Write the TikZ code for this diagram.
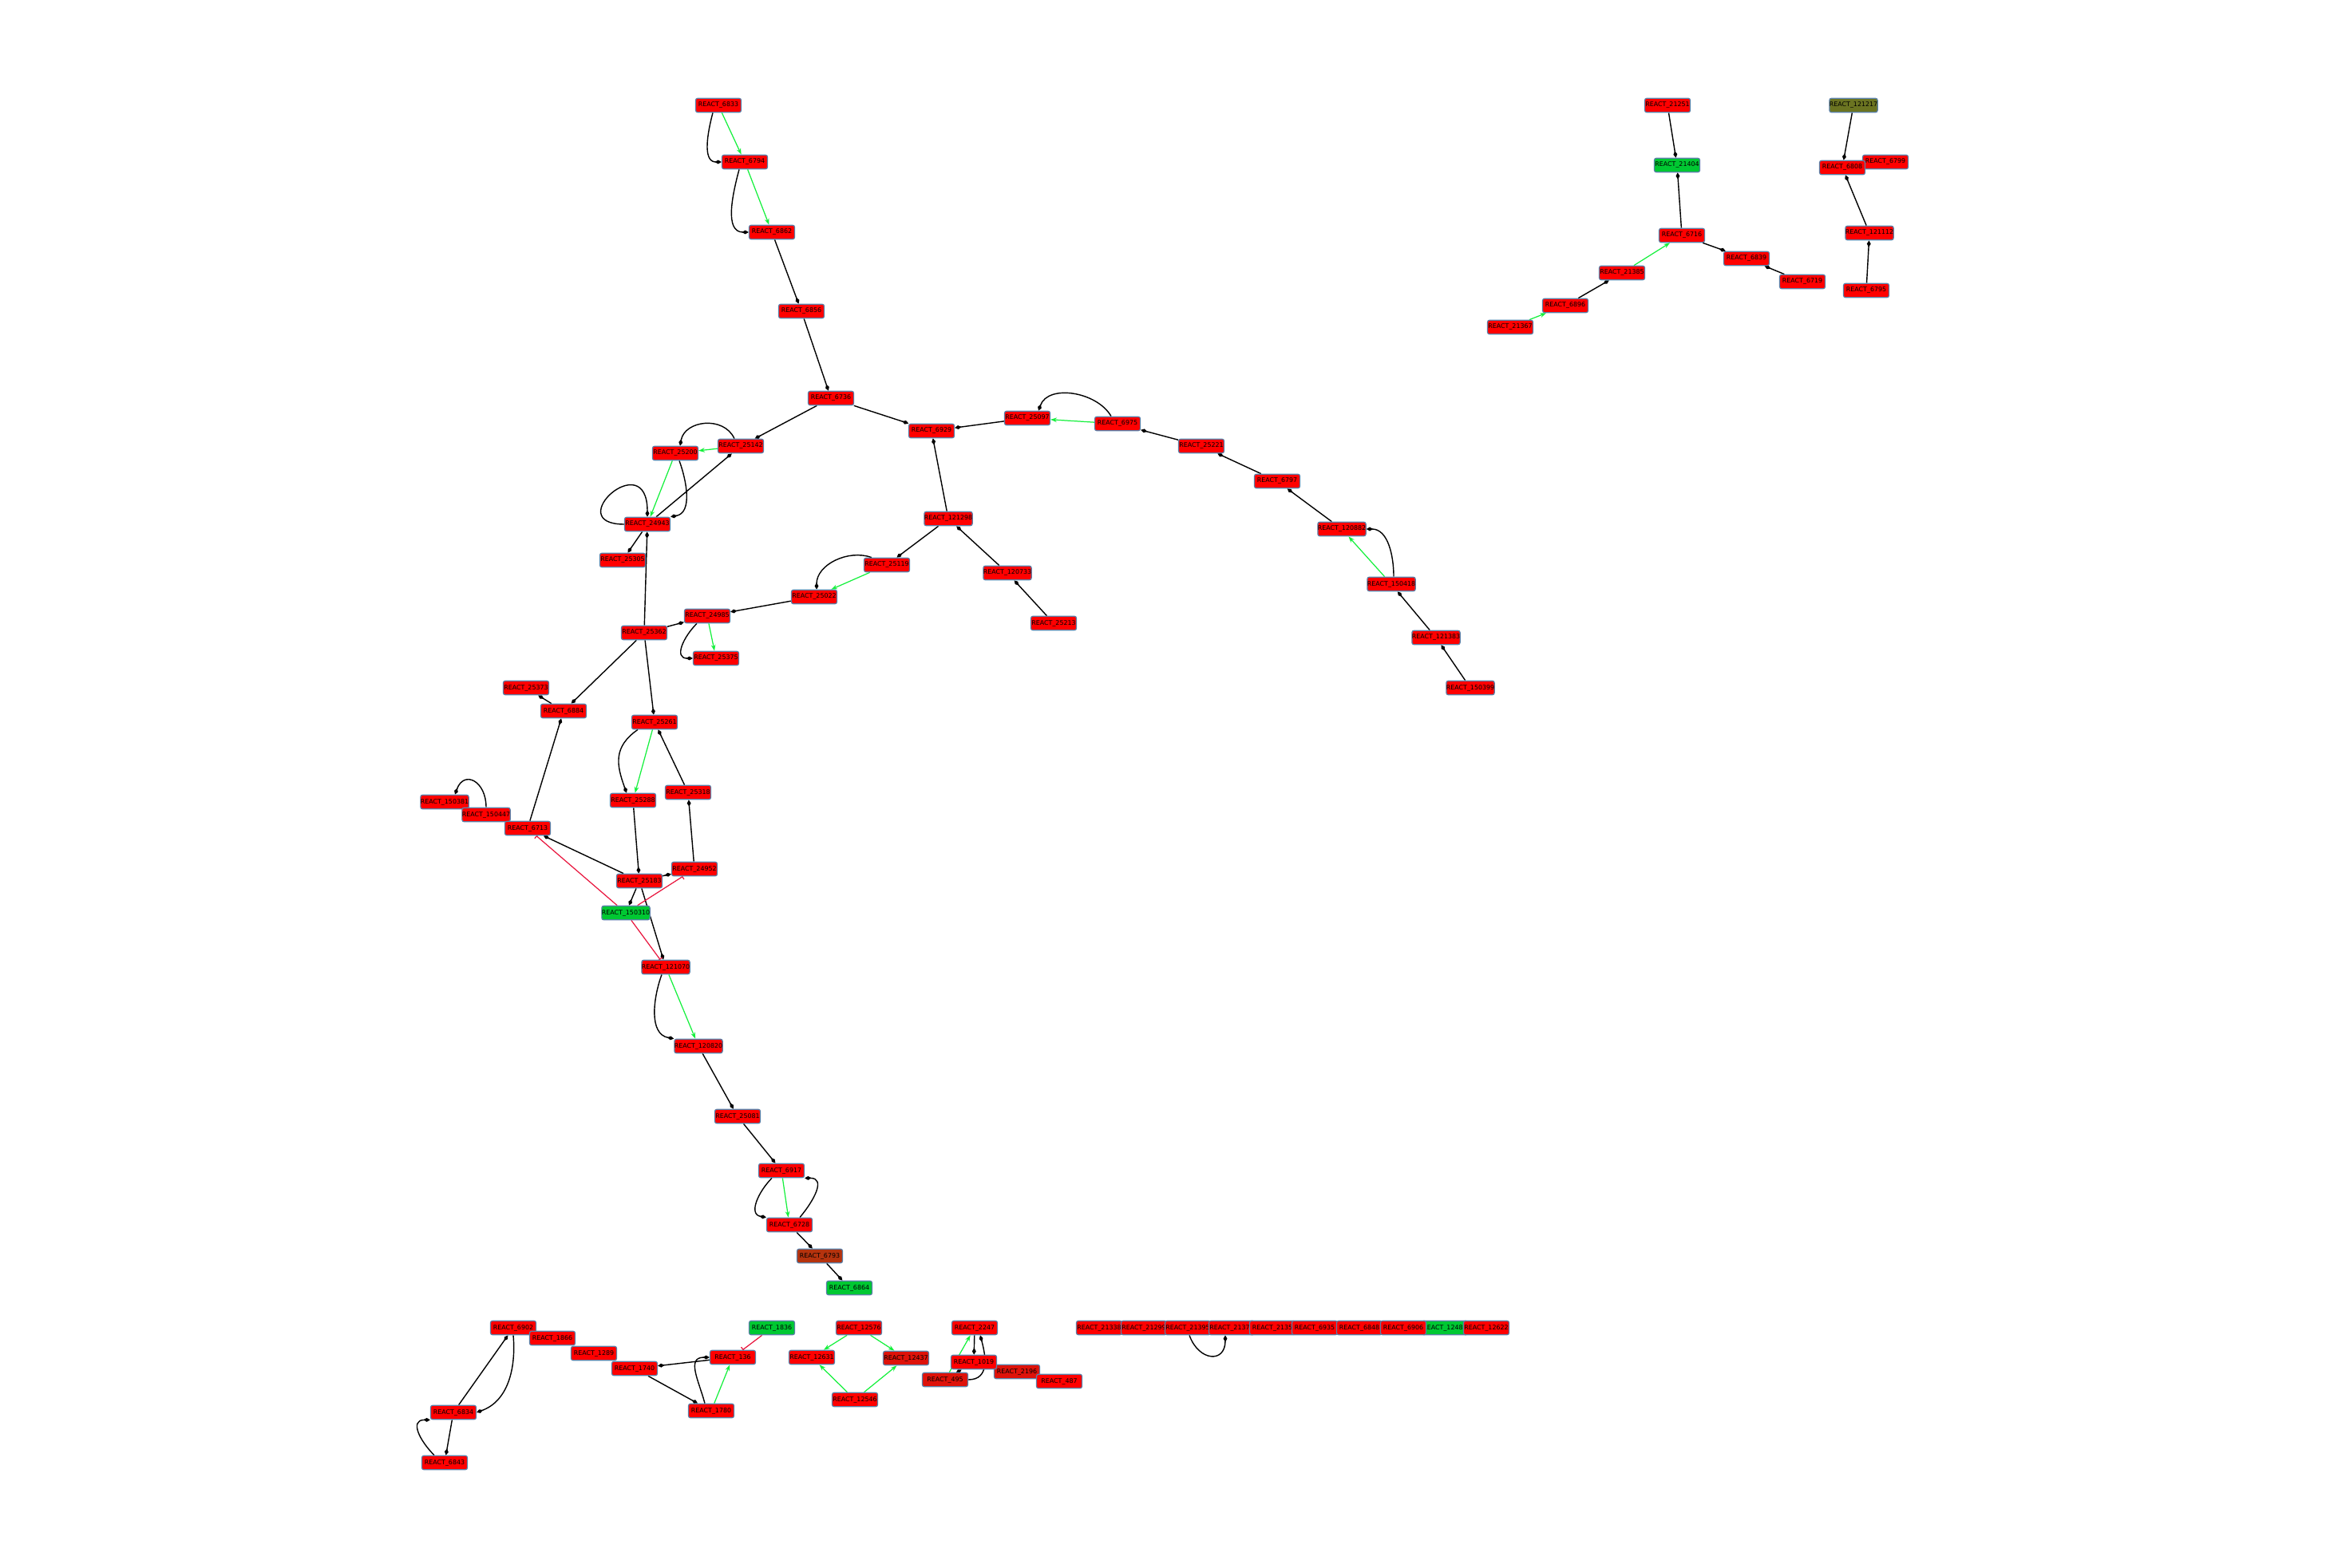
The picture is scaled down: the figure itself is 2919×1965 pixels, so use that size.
\documentclass[tikz,border=0pt]{standalone}
\usepackage{fontspec}
\setmainfont{DejaVu Sans}
\usetikzlibrary{arrows.meta,backgrounds}
\definecolor{reactred}{HTML}{FF0000}
\definecolor{reactdark}{HTML}{DE120A}
\definecolor{reactgreen}{HTML}{00C832}
\definecolor{reactbrown}{HTML}{B5330E}
\definecolor{reactolive}{HTML}{6B7421}
\definecolor{rimblue}{HTML}{5A80A8}
\definecolor{actgreen}{HTML}{14F03C}
\definecolor{inhred}{HTML}{E8163E}
\tikzset{
  react/.style={draw=rimblue,line width=0.35pt,fill=reactred,rounded corners=0.7pt,
    minimum width=5.7mm,minimum height=1.75mm,inner sep=0pt,
    font=\fontsize{2.25}{2.5}\selectfont},
  act/.style={line width=0.4pt,-{Diamond[length=2.4pt,width=1.4pt]}},
  cat/.style={actgreen,line width=0.35pt,-{Stealth[length=2.2pt,width=1.6pt]}},
  inh/.style={inhred,line width=0.35pt,-{Bar[width=2.2pt]}}
}
\begin{document}
\begin{tikzpicture}[x=0.1mm,y=-0.1mm]
\useasboundingbox (0,0) rectangle (2919,1965);
% main branch
\draw (900,132) node[react] (r6833) {REACT\_6833};
\draw (933,203) node[react] (r6794) {REACT\_6794};
\draw (967,291) node[react] (r6862) {REACT\_6862};
\draw (1004,390) node[react] (r6856) {REACT\_6856};
\draw (1041,499) node[react] (r6736) {REACT\_6736};
\draw (1167,540) node[react] (r6929) {REACT\_6929};
\draw (928,559) node[react] (r25142) {REACT\_25142};
\draw (846,568) node[react] (r25200) {REACT\_25200};
\draw (811,657) node[react] (r24943) {REACT\_24943};
\draw (780,702) node[react] (r25305) {REACT\_25305};
\draw (1188,650) node[react] (r121298) {REACT\_121298};
\draw (1111,708) node[react] (r25119) {REACT\_25119};
\draw (1020,748) node[react] (r25022) {REACT\_25022};
\draw (886,772) node[react] (r24985) {REACT\_24985};
\draw (807,793) node[react] (r25362) {REACT\_25362};
\draw (897,825) node[react] (r25375) {REACT\_25375};
\draw (1262,718) node[react] (r120733) {REACT\_120733};
\draw (1320,781) node[react] (r25213) {REACT\_25213};
\draw (1287,524) node[react] (r25097) {REACT\_25097};
\draw (1400,531) node[react] (r6975) {REACT\_6975};
\draw (1505,559) node[react] (r25221) {REACT\_25221};
\draw (1600,603) node[react] (r6797) {REACT\_6797};
\draw (1681,663) node[react] (r120882) {REACT\_120882};
\draw (1743,732) node[react] (r150418) {REACT\_150418};
\draw (1799,799) node[react] (r121383) {REACT\_121383};
\draw (1842,862) node[react] (r150399) {REACT\_150399};
\draw (659,862) node[react] (r25373) {REACT\_25373};
\draw (706,891) node[react] (r6884) {REACT\_6884};
\draw (820,905) node[react] (r25261) {REACT\_25261};
\draw (793,1003) node[react] (r25288) {REACT\_25288};
\draw (862,993) node[react] (r25318) {REACT\_25318};
\draw (557,1005) node[react] (r150381) {REACT\_150381};
\draw (609,1021) node[react] (r150447) {REACT\_150447};
\draw (661,1038) node[react] (r6713) {REACT\_6713};
\draw (870,1089) node[react] (r24952) {REACT\_24952};
\draw (801,1104) node[react] (r25183) {REACT\_25183};
\draw (784,1144) node[react,fill=reactgreen] (r150310) {REACT\_150310};
\draw (834,1212) node[react] (r121070) {REACT\_121070};
\draw (875,1311) node[react] (r120820) {REACT\_120820};
\draw (924,1399) node[react] (r25081) {REACT\_25081};
\draw (979,1467) node[react] (r6917) {REACT\_6917};
\draw (989,1535) node[react] (r6728) {REACT\_6728};
\draw (1027,1574) node[react,fill=reactbrown] (r6793) {REACT\_6793};
\draw (1064,1614) node[react,fill=reactgreen] (r6864) {REACT\_6864};
% top right
\draw (2089,132) node[react] (r21251) {REACT\_21251};
\draw (2101,207) node[react,fill=reactgreen] (r21404) {REACT\_21404};
\draw (2107,295) node[react] (r6716) {REACT\_6716};
\draw (2188,324) node[react] (r6839) {REACT\_6839};
\draw (2258,353) node[react] (r6719) {REACT\_6719};
\draw (2032,342) node[react] (r21385) {REACT\_21385};
\draw (1961,383) node[react] (r6896) {REACT\_6896};
\draw (1892,410) node[react] (r21367) {REACT\_21367};
\draw (2322,132) node[react,fill=reactolive] (r121217) {REACT\_121217};
\draw (2362,203) node[react] (r6799) {REACT\_6799};
\draw (2308,210) node[react] (r6808) {REACT\_6808};
\draw (2342,292) node[react] (r121112) {REACT\_121112};
\draw (2338,364) node[react] (r6795) {REACT\_6795};
% bottom
\draw (643,1664) node[react] (r6902) {REACT\_6902};
\draw (692,1677) node[react] (r1866) {REACT\_1866};
\draw (744,1696) node[react] (r1289) {REACT\_1289};
\draw (795,1715) node[react] (r1740) {REACT\_1740};
\draw (918,1701) node[react] (r136) {REACT\_136};
\draw (891,1768) node[react] (r1780) {REACT\_1780};
\draw (568,1770) node[react] (r6834) {REACT\_6834};
\draw (557,1833) node[react] (r6843) {REACT\_6843};
\draw (967,1664) node[react,fill=reactgreen] (r1836) {REACT\_1836};
\draw (1076,1664) node[react] (r12576) {REACT\_12576};
\draw (1017,1701) node[react] (r12631) {REACT\_12631};
\draw (1135,1702) node[react,fill=reactdark] (r12437) {REACT\_12437};
\draw (1071,1754) node[react] (r12546) {REACT\_12546};
\draw (1221,1664) node[react] (r2247) {REACT\_2247};
\draw (1274,1719) node[react,fill=reactdark] (r2196) {REACT\_2196};
\draw (1327,1731) node[react] (r487) {REACT\_487};
\draw (1220,1707) node[react] (r1019) {REACT\_1019};
\draw (1184,1729) node[react,fill=reactdark] (r495) {REACT\_495};
\draw (1377,1664) node[react] (r21338) {REACT\_21338};
\draw (1433,1664) node[react] (r21299) {REACT\_21299};
\draw (1488,1664) node[react] (r21395) {REACT\_21395};
\draw (1543,1664) node[react] (r21375) {REACT\_21375};
\draw (1594,1664) node[react] (r2135) {REACT\_2135};
\draw (1647,1664) node[react] (r6935) {REACT\_6935};
\draw (1703,1664) node[react] (r6848) {REACT\_6848};
\draw (1810,1664) node[react,fill=reactgreen] (r12487) {REACT\_12487};
\draw (1758,1664) node[react] (r6906) {REACT\_6906};
\draw (1862,1664) node[react] (r12622) {REACT\_12622};
\begin{scope}[on background layer]
\draw[act] (r6862) -- (r6856);
\draw[act] (r6856) -- (r6736);
\draw[act] (r6736) -- (r25142);
\draw[act] (r6736) -- (r6929);
\draw[act] (r25097) -- (r6929);
\draw[act] (r121298) -- (r6929);
\draw[act] (r24943) -- (r25142);
\draw[act] (r24943) -- (r25305);
\draw[act] (r25362) -- (r24943);
\draw[act] (r25362) -- (r25261);
\draw[act] (r25362) -- (r24985);
\draw[act] (r25022) -- (r24985);
\draw[act] (r121298) -- (r25119);
\draw[act] (r120733) -- (r121298);
\draw[act] (r25213) -- (r120733);
\draw[act] (r25362) -- (r6884);
\draw[act] (r6884) -- (r25373);
\draw[act] (r6713) -- (r6884);
\draw[act] (r25318) -- (r25261);
\draw[act] (r25288) -- (r25183);
\draw[act] (r24952) -- (r25318);
\draw[act] (r25183) -- (r24952);
\draw[act] (r25183) -- (r6713);
\draw[act] (r25183) -- (r150310);
\draw[act] (r25183) -- (r121070);
\draw[act] (r120820) -- (r25081);
\draw[act] (r25081) -- (r6917);
\draw[act] (r6728) -- (r6793);
\draw[act] (r6793) -- (r6864);
\draw[act] (r25221) -- (r6975);
\draw[act] (r6797) -- (r25221);
\draw[act] (r120882) -- (r6797);
\draw[act] (r121383) -- (r150418);
\draw[act] (r150399) -- (r121383);
\draw[act] (r21251) -- (r21404);
\draw[act] (r6716) -- (r21404);
\draw[act] (r6896) -- (r21385);
\draw[act] (r6716) -- (r6839);
\draw[act] (r6719) -- (r6839);
\draw[act] (r121217) -- (r6808);
\draw[act] (r121112) -- (r6808);
\draw[act] (r6795) -- (r121112);
\draw[act] (r6834) -- (r6902);
\draw[act] (r6834) -- (r6843);
\draw[act] (r1740) -- (r1780);
\draw[act] (r136) -- (r1740);
\draw[act] (r2247) -- (r1019);
\draw[act] (r495) -- (r1019);
\draw[act] ([xshift=-0.7mm]r6833.south) to[out=255,in=180] (r6794.west);
\draw[act] ([xshift=-0.7mm]r6794.south) to[out=255,in=180] (r6862.west);
\draw[act] ([xshift=-0.8mm]r25142.north) to[out=115,in=80,looseness=1.2] ([xshift=0.6mm]r25200.north);
\draw[act] ([xshift=0.5mm]r25200.south) to[out=290,in=10] (r24943.north east);
\draw[act] (r24943.west) .. controls +(-80,0) and +(0,-90) .. (r24943.north);
\draw[act] ([xshift=-1.3mm]r24985.south) to[out=225,in=180,looseness=1.4] (r25375.west);
\draw[act] ([xshift=-1.9mm]r25119.north) to[out=160,in=90] ([xshift=0.3mm]r25022.north);
\draw[act] ([xshift=-2.1mm]r25261.south) to[out=215,in=110,looseness=1.2] ([xshift=-0.8mm]r25288.north);
\draw[act] (r150447.north) to[out=90,in=70,looseness=2] ([xshift=1.3mm]r150381.north);
\draw[act] ([xshift=-0.5mm]r121070.south) to[out=250,in=170] (r120820.north west);
\draw[act] ([xshift=-1.2mm]r6917.south) to[out=225,in=170,looseness=1.2] (r6728.north west);
\draw[act] ([xshift=1.3mm]r6728.north) to[out=50,in=0,looseness=1.4] (r6917.south east);
\draw[act] (r6902.south) to[out=275,in=20] (r6834.east);
\draw[act] ([xshift=-1.3mm]r6843.north) to[out=135,in=180,looseness=1.5] (r6834.south west);
\draw[act] ([xshift=-0.8mm]r1780.north) to[out=105,in=180,looseness=1.3] (r136.west);
\draw[act] (r495.east) to[out=0,in=285,looseness=1.2] ([xshift=0.7mm]r2247.south);
\draw[act] ([xshift=0.2mm]r21395.south) to[out=290,in=270,looseness=2] ([xshift=-0.8mm]r21375.south);
\draw[act] ([xshift=-0.8mm]r6975.north) to[out=120,in=70] ([xshift=1.4mm]r25097.north);
\draw[act] ([xshift=0.3mm]r150418.north) to[out=90,in=0] (r120882.east);
\draw[cat] (r6833) -- (r6794);
\draw[cat] (r6794) -- (r6862);
\draw[cat] (r25142) -- (r25200);
\draw[cat] (r25200) -- (r24943);
\draw[cat] (r24985) -- (r25375);
\draw[cat] (r25119) -- (r25022);
\draw[cat] (r25261) -- (r25288);
\draw[cat] (r121070) -- (r120820);
\draw[cat] (r6917) -- (r6728);
\draw[cat] (r6975) -- (r25097);
\draw[cat] (r150418) -- (r120882);
\draw[cat] (r21385) -- (r6716);
\draw[cat] (r21367) -- (r6896);
\draw[cat] (r1780) -- (r136);
\draw[cat] (r12576) -- (r12631);
\draw[cat] (r12576) -- (r12437);
\draw[cat] (r12546) -- (r12631);
\draw[cat] (r12546) -- (r12437);
\draw[cat] (r495) -- (r2247);
\draw[inh] (r150310) -- (r6713);
\draw[inh] (r150310) -- (r24952);
\draw[inh] (r150310) -- (r121070);
\draw[inh] (r1836) -- (r136);
\end{scope}
\end{tikzpicture}
\end{document}
